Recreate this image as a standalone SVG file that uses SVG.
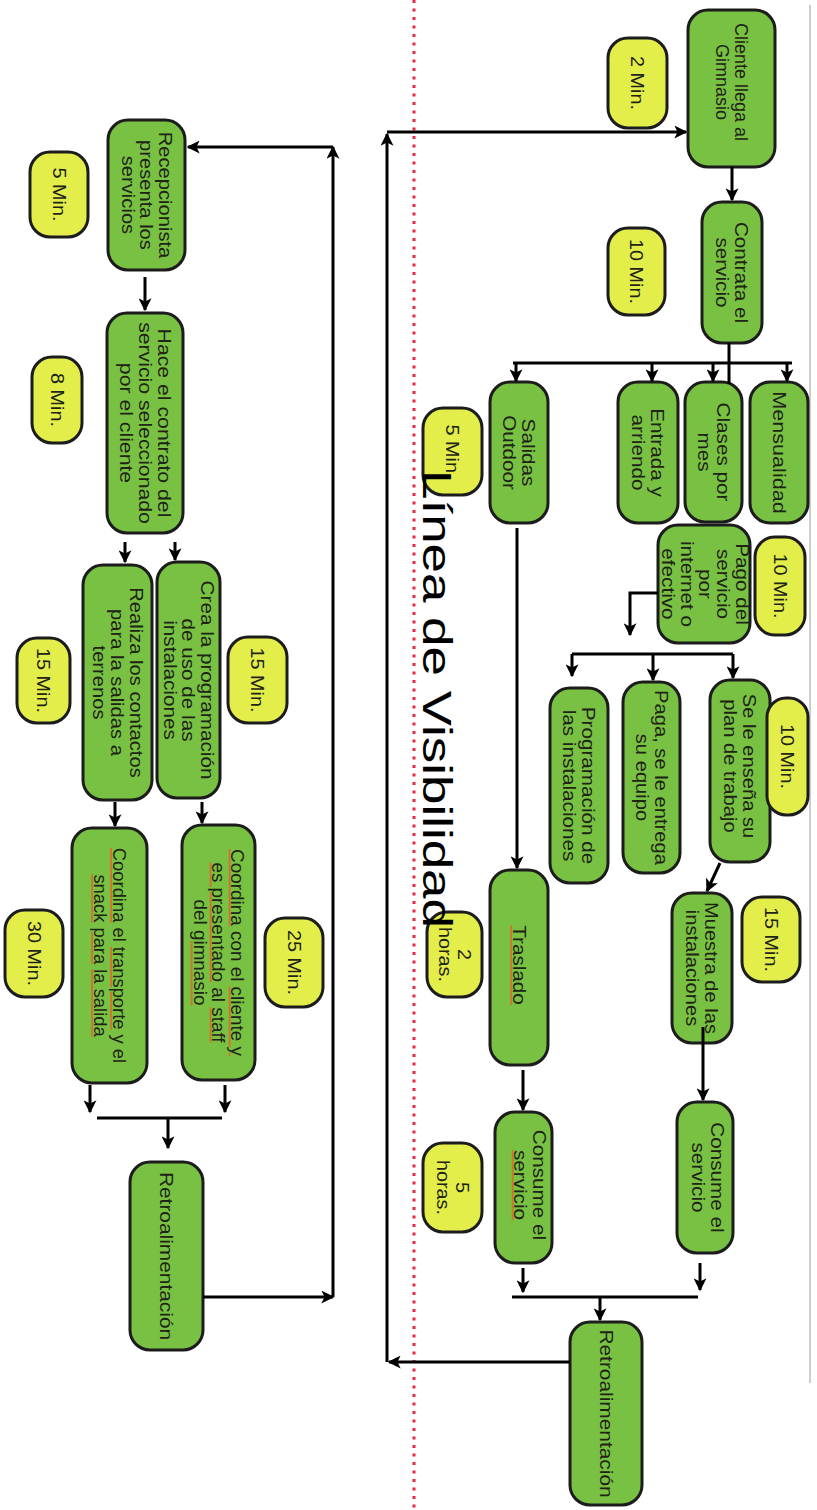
<svg xmlns="http://www.w3.org/2000/svg" width="817" height="1510" viewBox="0 0 817 1510">
<style>
.g{fill:#79c143;stroke:#1c1c1c;stroke-width:3}
.y{fill:#e4ee4b;stroke:#1c1c1c;stroke-width:3}
.t{font-family:"Liberation Sans",Arial,sans-serif;font-size:18px;fill:#1e2416;text-anchor:middle}
.c{fill:none;stroke:#000;stroke-width:3}
.a{marker-end:url(#ah)}
.sq{fill:#d9702a;text-decoration:underline}
.in{fill:#1e2416}
</style>
<defs>
<marker id="ah" markerUnits="userSpaceOnUse" markerWidth="13" markerHeight="13" refX="9" refY="5" orient="auto" viewBox="0 0 10 10">
<path d="M0,0 L10,5 L0,10 L2.5,5 z" fill="#000"/>
</marker>
</defs>
<rect width="817" height="1510" fill="#fff"/>
<line x1="810" y1="5" x2="810" y2="1383" stroke="#bdbdbd" stroke-width="1.5"/>
<line x1="414" y1="0" x2="414" y2="1510" stroke="#e8283f" stroke-width="3" stroke-dasharray="3 5.5"/>

<g id="front">
<g id="n_cliente"><rect class="g" x="688" y="10" width="87" height="157" rx="20"/><text class="t" transform="translate(731.5 82) rotate(90) scale(1.0 1)"><tspan x="0" y="-3.5">Cliente llega al</tspan><tspan x="0" y="15.5">Gimnasio</tspan></text></g>
<g id="n_contrata"><rect class="g" x="702" y="202" width="60" height="141" rx="20"/><text class="t" transform="translate(732 272.5) rotate(90) scale(1.15 1)"><tspan x="0" y="-3.5">Contrata el</tspan><tspan x="0" y="15.5">servicio</tspan></text></g>
<g id="n_mensualidad"><rect class="g" x="750" y="382" width="58" height="141" rx="20"/><text class="t" transform="translate(779 452.5) rotate(90) scale(1.2 1)"><tspan x="0" y="6">Mensualidad</tspan></text></g>
<g id="n_clases"><rect class="g" x="685" y="382" width="57" height="140" rx="20"/><text class="t" transform="translate(713.5 452) rotate(90) scale(1.15 1)"><tspan x="0" y="-3.5">Clases por</tspan><tspan x="0" y="15.5">mes</tspan></text></g>
<g id="n_entrada"><rect class="g" x="618" y="382" width="60" height="141" rx="20"/><text class="t" transform="translate(648 452.5) rotate(90) scale(1.15 1)"><tspan x="0" y="-3.5">Entrada y</tspan><tspan x="0" y="15.5">arriendo</tspan></text></g>
<g id="n_salidas"><rect class="g" x="490" y="382" width="58" height="141" rx="20"/><text class="t" transform="translate(519 452.5) rotate(90) scale(1.15 1)"><tspan x="0" y="-3.5">Salidas</tspan><tspan x="0" y="15.5">Outdoor</tspan></text></g>
<g id="n_pago"><rect class="g" x="658" y="525" width="92" height="118" rx="20"/><text class="t" transform="translate(705 584) rotate(90) scale(1.15 1)"><tspan x="0" y="-31">Pago del</tspan><tspan x="0" y="-12.5">servicio</tspan><tspan x="0" y="6">por</tspan><tspan x="0" y="24.5">internet o</tspan><tspan x="0" y="43">efectivo</tspan></text></g>
<g id="n_ensena"><rect class="g" x="710" y="680" width="60" height="182" rx="20"/><text class="t" transform="translate(740 766) rotate(90) scale(1.12 1)"><tspan x="0" y="-3.5">Se le enseña su</tspan><tspan x="0" y="15.5">plan de trabajo</tspan></text></g>
<g id="n_paga"><rect class="g" x="623" y="682" width="57" height="191" rx="20"/><text class="t" transform="translate(651.5 777.5) rotate(90) scale(1.12 1)"><tspan x="0" y="-3.5">Paga, se le entrega</tspan><tspan x="0" y="15.5">su equipo</tspan></text></g>
<g id="n_prog"><rect class="g" x="550" y="688" width="58" height="195" rx="20"/><text class="t" transform="translate(579 785.5) rotate(90) scale(1.15 1)"><tspan x="0" y="-3.5">Programación de</tspan><tspan x="0" y="15.5">las instalaciones</tspan></text></g>
<g id="n_muestra"><rect class="g" x="672" y="893" width="60" height="150" rx="20"/><text class="t" transform="translate(702 968) rotate(90) scale(1.12 1)"><tspan x="0" y="-3.5">Muestra de las</tspan><tspan x="0" y="15.5">instalaciones</tspan></text></g>
<g id="n_traslado"><rect class="g" x="490" y="870" width="58" height="195" rx="20"/><text class="t" transform="translate(519 965) rotate(90) scale(1.15 1)"><tspan x="0" y="6" class="sq"><tspan class="in">Traslado</tspan></tspan></text></g>
<g id="n_consume1"><rect class="g" x="495" y="1112" width="57" height="151" rx="20"/><text class="t" transform="translate(530 1185) rotate(90) scale(1.15 1)"><tspan x="0" y="-3.5">Consume el</tspan><tspan x="0" y="15.5" class="sq"><tspan class="in">servicio</tspan></tspan></text></g>
<g id="n_consume2"><rect class="g" x="677" y="1102" width="56" height="151" rx="20"/><text class="t" transform="translate(708 1177.5) rotate(90) scale(1.15 1)"><tspan x="0" y="-3.5">Consume el</tspan><tspan x="0" y="15.5">servicio</tspan></text></g>
<g id="n_retro1"><rect class="g" x="570" y="1322" width="72" height="183" rx="20"/><text class="t" transform="translate(606 1413.5) rotate(90) scale(1.16 1)"><tspan x="0" y="6">Retroalimentación</tspan></text></g>

<g id="t_2min"><rect class="y" x="608" y="38" width="59" height="90" rx="20"/><text class="t" transform="translate(637.5 83) rotate(90) scale(1.1 1)"><tspan x="0" y="6">2 Min.</tspan></text></g>
<g id="t_10a"><rect class="y" x="608" y="228" width="57" height="87" rx="20"/><text class="t" transform="translate(636.5 271.5) rotate(90) scale(1.1 1)"><tspan x="0" y="6">10 Min.</tspan></text></g>
<g id="t_5a"><rect class="y" x="423" y="408" width="59" height="87" rx="20"/><text class="t" transform="translate(452.5 451.5) rotate(90) scale(1.1 1)"><tspan x="0" y="6">5 Min.</tspan></text></g>
<g id="t_10b"><rect class="y" x="755" y="537" width="50" height="98" rx="20"/><text class="t" transform="translate(780 586) rotate(90) scale(1.1 1)"><tspan x="0" y="6">10 Min.</tspan></text></g>
<g id="t_10c"><rect class="y" x="767" y="698" width="41" height="117" rx="19"/><text class="t" transform="translate(787.5 756.5) rotate(90) scale(1.1 1)"><tspan x="0" y="6">10 Min.</tspan></text></g>
<g id="t_15a"><rect class="y" x="742" y="897" width="58" height="85" rx="20"/><text class="t" transform="translate(771 939.5) rotate(90) scale(1.1 1)"><tspan x="0" y="6">15 Min.</tspan></text></g>
<g id="t_2h"><rect class="y" x="427" y="912" width="55" height="85" rx="20"/><text class="t" transform="translate(454.5 954.5) rotate(90) scale(1.1 1)"><tspan x="0" y="-3.5">2</tspan><tspan x="0" y="15.5">horas.</tspan></text></g>
<g id="t_5h"><rect class="y" x="423" y="1143" width="59" height="89" rx="20"/><text class="t" transform="translate(452.5 1187.5) rotate(90) scale(1.1 1)"><tspan x="0" y="-3.5">5</tspan><tspan x="0" y="15.5">horas.</tspan></text></g>
</g>

<g id="back">
<g id="n_recep"><rect class="g" x="108" y="120" width="77" height="150" rx="20"/><text class="t" transform="translate(146.5 195) rotate(90) scale(1.12 1)"><tspan x="0" y="-13">Recepcionista</tspan><tspan x="0" y="6">presenta los</tspan><tspan x="0" y="25">servicios</tspan></text></g>
<g id="n_hace"><rect class="g" x="107" y="313" width="76" height="220" rx="20"/><text class="t" transform="translate(145 423) rotate(90) scale(1.18 1)"><tspan x="0" y="-13">Hace el contrato del</tspan><tspan x="0" y="6">servicio seleccionado</tspan><tspan x="0" y="25">por el cliente</tspan></text></g>
<g id="n_crea"><rect class="g" x="157" y="562" width="63" height="236" rx="20"/><text class="t" transform="translate(188.5 680) rotate(90) scale(1.15 1)"><tspan x="0" y="-13">Crea la programación</tspan><tspan x="0" y="6">de uso de las</tspan><tspan x="0" y="25">instalaciones</tspan></text></g>
<g id="n_realiza"><rect class="g" x="83" y="565" width="69" height="235" rx="20"/><text class="t" transform="translate(117.5 682.5) rotate(90) scale(1.12 1)"><tspan x="0" y="-13">Realiza los contactos</tspan><tspan x="0" y="6">para la salidas a</tspan><tspan x="0" y="25">terrenos</tspan></text></g>
<g id="n_coord1"><rect class="g" x="182" y="825" width="73" height="255" rx="20"/><text class="t" transform="translate(218.5 952.5) rotate(90) scale(1.05 1)"><tspan x="0" y="-13"><tspan class="sq"><tspan class="in">Coordina</tspan></tspan> con el <tspan class="sq"><tspan class="in">cliente y</tspan></tspan></tspan><tspan x="0" y="6"><tspan class="sq"><tspan class="in">es presentado</tspan></tspan> al <tspan class="sq"><tspan class="in">staff</tspan></tspan></tspan><tspan x="0" y="25">del <tspan class="sq"><tspan class="in">gimnasio</tspan></tspan></tspan></text></g>
<g id="n_coord2"><rect class="g" x="72" y="828" width="75" height="255" rx="20"/><text class="t" transform="translate(109.5 955.5) rotate(90) scale(1.02 1)"><tspan x="0" y="-3.5"><tspan class="sq"><tspan class="in">Coordina</tspan></tspan> el <tspan class="sq"><tspan class="in">transporte</tspan></tspan> y el</tspan><tspan x="0" y="15.5"><tspan class="sq"><tspan class="in">snack</tspan></tspan> <tspan class="sq"><tspan class="in">para</tspan></tspan> <tspan class="sq"><tspan class="in">la salida</tspan></tspan></tspan></text></g>
<g id="n_retro2"><rect class="g" x="130" y="1162" width="73" height="188" rx="20"/><text class="t" transform="translate(166.5 1256) rotate(90) scale(1.16 1)"><tspan x="0" y="6">Retroalimentación</tspan></text></g>

<g id="t_5b"><rect class="y" x="30" y="152" width="58" height="85" rx="20"/><text class="t" transform="translate(59 194.5) rotate(90) scale(1.1 1)"><tspan x="0" y="6">5 Min.</tspan></text></g>
<g id="t_8"><rect class="y" x="32" y="357" width="50" height="86" rx="20"/><text class="t" transform="translate(57 400) rotate(90) scale(1.1 1)"><tspan x="0" y="6">8 Min.</tspan></text></g>
<g id="t_15b"><rect class="y" x="228" y="637" width="59" height="86" rx="20"/><text class="t" transform="translate(257.5 680) rotate(90) scale(1.1 1)"><tspan x="0" y="6">15 Min.</tspan></text></g>
<g id="t_15c"><rect class="y" x="17" y="638" width="53" height="85" rx="20"/><text class="t" transform="translate(43.5 680.5) rotate(90) scale(1.1 1)"><tspan x="0" y="6">15 Min.</tspan></text></g>
<g id="t_25"><rect class="y" x="265" y="918" width="58" height="89" rx="20"/><text class="t" transform="translate(294 962.5) rotate(90) scale(1.1 1)"><tspan x="0" y="6">25 Min.</tspan></text></g>
<g id="t_30"><rect class="y" x="5" y="910" width="58" height="87" rx="20"/><text class="t" transform="translate(34 953.5) rotate(90) scale(1.1 1)"><tspan x="0" y="6">30 Min.</tspan></text></g>
</g>

<g id="connectors">
<path class="c a" d="M570,1362 H389"/>
<path class="c a" d="M387,1362 V134"/>
<path class="c a" d="M387,132 H686"/>
<path class="c a" d="M732,167 V200"/>
<path class="c" d="M729,343 V384"/>
<path class="c" d="M513,363 H792"/>
<path class="c a" d="M516,363 V381"/>
<path class="c a" d="M652,363 V381"/>
<path class="c a" d="M713,363 V381"/>
<path class="c a" d="M787,363 V381"/>
<path class="c a" d="M658,593 H630 V635"/>
<path class="c" d="M572,654 H733"/>
<path class="c a" d="M572,654 V676"/>
<path class="c a" d="M653,654 V680"/>
<path class="c a" d="M733,654 V678"/>
<path class="c a" d="M517,528 V868"/>
<path class="c a" d="M720,863 L707,891"/>
<path class="c a" d="M703,1027 V1100"/>
<path class="c a" d="M523,1070 V1110"/>
<path class="c a" d="M523,1268 V1292"/>
<path class="c a" d="M700,1263 V1290"/>
<path class="c" d="M512,1297 H698"/>
<path class="c a" d="M600,1297 V1320"/>

<path class="c a" d="M203,1297 H333"/>
<path class="c a" d="M333,1297 V147"/>
<path class="c a" d="M333,147 H188"/>
<path class="c a" d="M145,277 V310"/>
<path class="c a" d="M175,542 V560"/>
<path class="c a" d="M125,542 V562"/>
<path class="c a" d="M202,802 V823"/>
<path class="c a" d="M115,802 V826"/>
<path class="c a" d="M225,1085 V1112"/>
<path class="c a" d="M90,1085 V1112"/>
<path class="c" d="M97,1118 H222"/>
<path class="c a" d="M168,1118 V1148"/>
</g>

<text transform="translate(423 470) rotate(90)" font-family="Liberation Sans, Arial, sans-serif" font-size="41" fill="#000" textLength="458" lengthAdjust="spacingAndGlyphs">Línea de Visibilidad</text>
</svg>
